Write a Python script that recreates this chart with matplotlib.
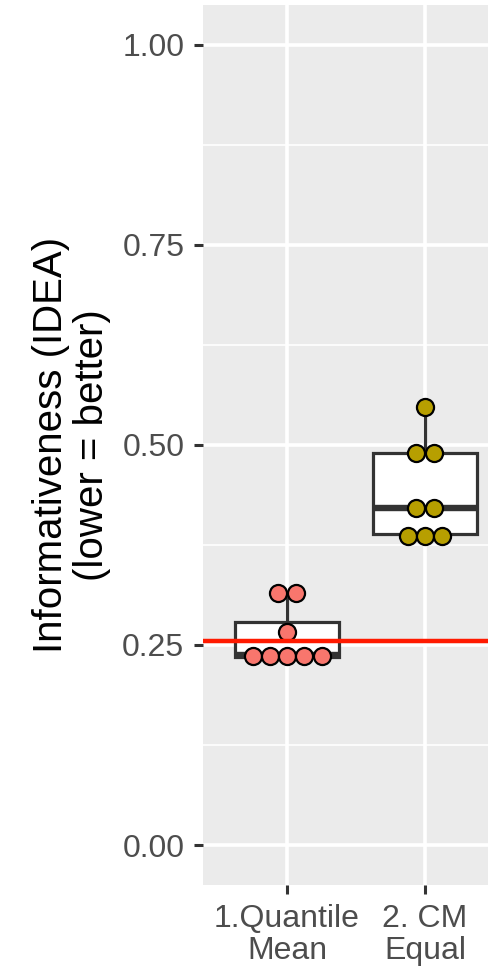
import matplotlib.pyplot as plt
import numpy as np

plt.rcParams["font.family"] = ["Liberation Sans", "DejaVu Sans"]

# --- data ---
methods = ["1.Quantile\nMean", "2. CM\nEqual"]
quantile_mean = [0.233, 0.234, 0.235, 0.237, 0.239, 0.266, 0.315, 0.315]
cm_equal = [0.383, 0.386, 0.389, 0.419, 0.423, 0.489, 0.492, 0.548]
reference_line = 0.255
point_colors = ["#F8766D", "#B79F00"]

y_ticks = [0.0, 0.25, 0.5, 0.75, 1.0]
y_tick_labels = ["0.00", "0.25", "0.50", "0.75", "1.00"]
y_minor = [0.125, 0.375, 0.625, 0.875]

BINWIDTH = 0.0225  # dotplot bin height (data units)
DOT_STEP = 0.125   # horizontal spacing of stacked dots (x units)


def dot_bins(values, binwidth):
    """Greedy dot-density binning, returns (center, count) for each bin."""
    vals = sorted(values)
    bins = []
    i = 0
    while i < len(vals):
        start = vals[i]
        j = i
        while j < len(vals) and vals[j] < start + binwidth:
            j += 1
        group = vals[i:j]
        bins.append(((min(group) + max(group)) / 2, len(group)))
        i = j
    return bins


fig = plt.figure(figsize=(4.89, 9.71), dpi=100)
ax = fig.add_axes([203 / 489, 86 / 971, 1 - 203 / 489, 880 / 971])
ax.set_facecolor("#EBEBEB")

# grid
for y in y_minor:
    ax.axhline(y, color="white", lw=1.2, zorder=0)
for y in y_ticks:
    ax.axhline(y, color="white", lw=2.6, zorder=0)
for x in [1, 2]:
    ax.axvline(x, color="white", lw=2.6, zorder=0)

data = [quantile_mean, cm_equal]
bp = ax.boxplot(
    data,
    positions=[1, 2],
    widths=0.75,
    patch_artist=True,
    showfliers=False,
    showcaps=False,
    whis=1.5,
    boxprops=dict(facecolor="white", edgecolor="#333333", linewidth=2.3),
    whiskerprops=dict(color="#333333", linewidth=2.3),
    medianprops=dict(color="#333333", linewidth=4.6),
    zorder=2,
)

for k, (vals, col) in enumerate(zip(data, point_colors)):
    xpos = k + 1
    for center, n in dot_bins(vals, BINWIDTH):
        offsets = (np.arange(n) - (n - 1) / 2) * DOT_STEP
        ax.scatter(
            xpos + offsets,
            [center] * n,
            s=12.3 ** 2,
            color=col,
            edgecolors="black",
            linewidths=1.6,
            zorder=4,
        )

ax.axhline(reference_line, color="#FF1A00", lw=3.2, zorder=5)

ax.set_xlim(0.391, 2.464)
ax.set_ylim(-0.05, 1.05)
ax.set_yticks(y_ticks)
ax.set_yticklabels(y_tick_labels)
ax.set_xticks([1, 2])
ax.set_xticklabels(methods, linespacing=1.1)
ax.tick_params(
    axis="both",
    colors="#333333",
    labelcolor="#4D4D4D",
    labelsize=23,
    length=6.5,
    width=2.2,
    pad=7,
)
for spine in ax.spines.values():
    spine.set_visible(False)

ax.set_ylabel(
    "Informativeness (IDEA)\n(lower = better)",
    fontsize=29,
    color="black",
    linespacing=1.1,
    labelpad=8,
)

fig.savefig("out.png", dpi=100)
